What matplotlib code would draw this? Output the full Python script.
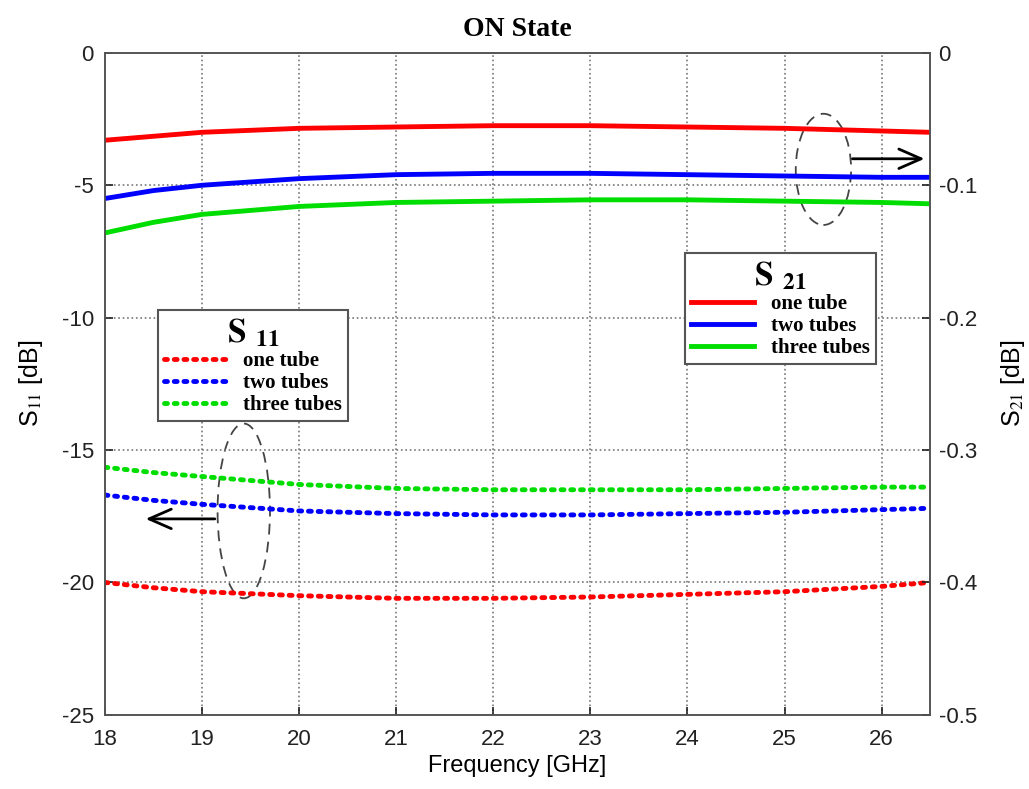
import matplotlib
matplotlib.use("Agg")
import matplotlib.pyplot as plt
from matplotlib.patches import Ellipse

# frequency points (GHz)
freq = [18, 18.5, 19, 20, 21, 22, 23, 24, 25, 26, 26.5]

# S11 (left axis, dB)
s11_one = [-20.0, -20.2, -20.35, -20.5, -20.6, -20.6, -20.55, -20.45, -20.35, -20.15, -20.0]
s11_two = [-16.7, -16.9, -17.05, -17.3, -17.4, -17.45, -17.45, -17.4, -17.35, -17.25, -17.2]
s11_three = [-15.65, -15.85, -16.0, -16.3, -16.45, -16.5, -16.5, -16.5, -16.45, -16.4, -16.4]

# S21 (right axis, dB)
s21_one = [-0.066, -0.063, -0.060, -0.057, -0.056, -0.055, -0.055, -0.056, -0.057, -0.059, -0.060]
s21_two = [-0.110, -0.104, -0.100, -0.095, -0.092, -0.091, -0.091, -0.092, -0.093, -0.094, -0.094]
s21_three = [-0.136, -0.128, -0.122, -0.116, -0.113, -0.112, -0.111, -0.111, -0.112, -0.113, -0.114]

labels = ["one tube", "two tubes", "three tubes"]
colors = ["#ff0000", "#0000ff", "#00dd00"]

plt.rcParams["font.family"] = ["Liberation Sans", "DejaVu Sans"]
plt.rcParams["mathtext.fontset"] = "stix"
plt.rcParams["axes.unicode_minus"] = False

fig = plt.figure(figsize=(10.29, 7.89), dpi=100)
ax = fig.add_axes([0.102, 0.094, 0.802, 0.839])
ax2 = ax.twinx()

# dotted S11 curves
s11_lines = []
for vals, c, lab in zip([s11_one, s11_two, s11_three], colors, labels):
    ln, = ax.plot(freq, vals, color=c, linewidth=3.5, linestyle=(0, (0.6, 1.4)),
                  dash_capstyle="round", label=lab)
    s11_lines.append(ln)

# solid S21 curves
s21_lines = []
for vals, c, lab in zip([s21_one, s21_two, s21_three], colors, labels):
    ln, = ax2.plot(freq, vals, color=c, linewidth=3.5, label=lab)
    s21_lines.append(ln)

ax.set_xlim(18, 26.5)
ax.set_ylim(-25, 0)
ax2.set_ylim(-0.5, 0)
ax.set_xticks(range(18, 27))
ax.set_yticks(range(-25, 1, 5))
ax2.set_yticks([-0.5, -0.4, -0.3, -0.2, -0.1, 0])
ax2.set_yticklabels(["-0.5", "-0.4", "-0.3", "-0.2", "-0.1", "0"])

ax.grid(True, linestyle=":", color="#777777", linewidth=1.2)
for a in (ax, ax2):
    a.tick_params(direction="in", labelsize=16, length=6, width=1.2, colors="#222222")
    for sp in a.spines.values():
        sp.set_color("#555555")
        sp.set_linewidth(1.2)
ax.tick_params(axis="x", pad=10)
ax.tick_params(axis="y", pad=8)
ax2.tick_params(axis="y", pad=6)

ax.set_xlabel("Frequency [GHz]", fontsize=17, labelpad=4)
ax.set_ylabel("S$_{11}$ [dB]", fontsize=18, labelpad=12)
ax2.set_ylabel("S$_{21}$ [dB]", fontsize=18, labelpad=16)
ax.set_title("ON State", fontsize=20, fontweight="bold", family="Liberation Serif", pad=12)

# annotation ellipses and arrows
ax.add_patch(Ellipse((19.43, -17.3), 0.54, 6.6, fill=False, linestyle=(0, (6, 4)),
                     edgecolor="#444444", linewidth=1.3))
ax.annotate("", xy=(18.39, -17.6), xytext=(19.16, -17.6),
            arrowprops=dict(arrowstyle="->,head_length=1.6,head_width=0.7", color="black", lw=2))
ax.add_patch(Ellipse((25.4, -4.4), 0.57, 4.2, fill=False, linestyle=(0, (6, 4)),
                     edgecolor="#444444", linewidth=1.3))
ax.annotate("", xy=(26.47, -4.0), xytext=(25.67, -4.0),
            arrowprops=dict(arrowstyle="->,head_length=1.6,head_width=0.7", color="black", lw=2))

leg_font = {"family": "Liberation Serif", "weight": "bold", "size": 15}
leg1 = ax2.legend(s11_lines, labels, loc="upper left", bbox_to_anchor=(0.064, 0.612),
                  title=r"$\mathbf{S}$ $\mathbf{_{11}}$", prop=leg_font, fancybox=False,
                  edgecolor="#555555", framealpha=1, handlelength=3.0, borderpad=0.3,
                  labelspacing=0.1, title_fontsize=24, borderaxespad=0)
leg1.get_frame().set_linewidth(1.5)
ax2.add_artist(leg1)
leg2 = ax2.legend(s21_lines, labels, loc="upper left", bbox_to_anchor=(0.703, 0.698),
                  title=r"$\mathbf{S}$ $\mathbf{_{21}}$", prop=leg_font, fancybox=False,
                  edgecolor="#555555", framealpha=1, handlelength=3.0, borderpad=0.3,
                  labelspacing=0.1, title_fontsize=24, borderaxespad=0)
leg2.get_frame().set_linewidth(1.5)

fig.savefig("out.png", dpi=100)
